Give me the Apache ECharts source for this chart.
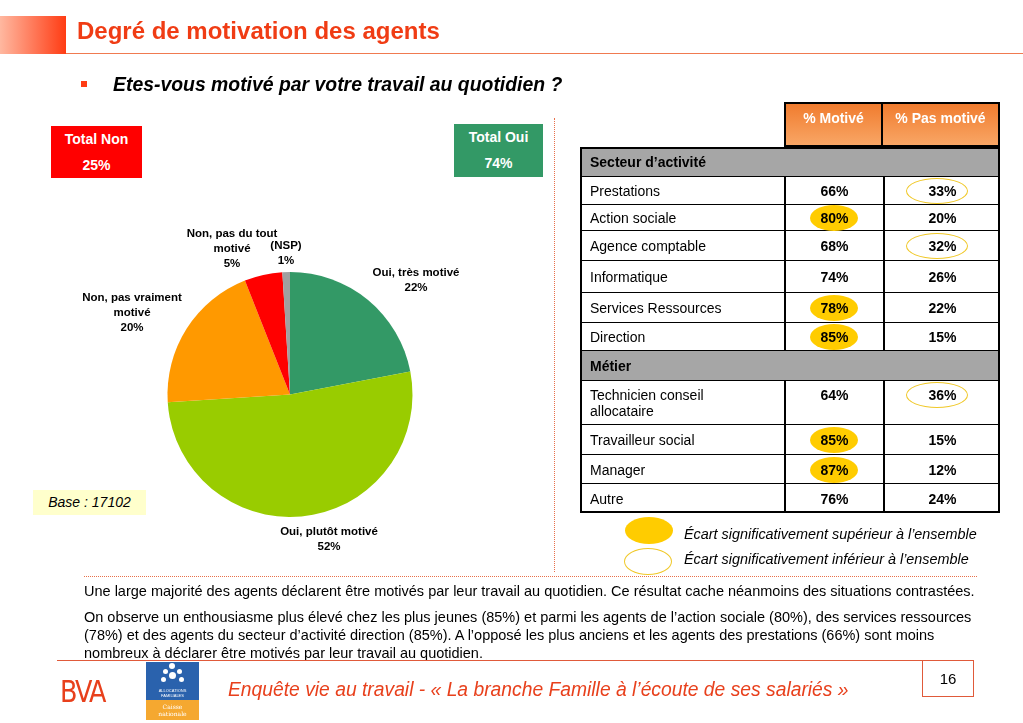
<!DOCTYPE html>
<html>
<head>
<meta charset="utf-8">
<script src="https://cdn.jsdelivr.net/npm/echarts/dist/echarts.min.js"></script>
<style>
  html, body { margin:0; padding:0; background:#fff; }
  body { width:1023px; height:723px; position:relative; overflow:hidden; font-family:"Liberation Sans", Arial, sans-serif; color:#000; }
  .abs { position:absolute; }
  #chart { position:absolute; left:0; top:0; width:1023px; height:723px; }
  .ell { position:absolute; border-radius:50%; box-sizing:border-box; }
  .vt { position:relative; z-index:2; }
</style>
</head>
<body>
<div id="chart"></div>
<div id="layer"></div>
<script>
// ---------- DATA ----------
const pieNames = ['Oui, très motivé', 'Oui, plutôt motivé', 'Non, pas vraiment\nmotivé', 'Non, pas du tout\nmotivé', '(NSP)'];
const pieValues = [22, 52, 20, 5, 1];
const pieColors = ['#339966', '#99cc00', '#ff9900', '#ff0000', '#a0a0a0'];

const totalLabels = ['Total Non', 'Total Oui'];
const totalValues = [25, 74];

const colHeaders = ['% Motivé', '% Pas motivé'];

const groupNames = ['Secteur d’activité', 'Métier'];
const secteurLabels = ['Prestations', 'Action sociale', 'Agence comptable', 'Informatique', 'Services Ressources', 'Direction'];
const secteurMotive = [66, 80, 68, 74, 78, 85];
const secteurPasMotive = [33, 20, 32, 26, 22, 15];
const secteurSig = ['low', 'high', 'low', '', 'high', 'high'];

const metierLabels = ['Technicien conseil\nallocataire', 'Travailleur social', 'Manager', 'Autre'];
const metierMotive = [64, 85, 87, 76];
const metierPasMotive = [36, 15, 12, 24];
const metierSig = ['low', 'high', 'high', ''];

const baseText = 'Base : 17102';
const legendTexts = ['Écart significativement supérieur à l’ensemble', 'Écart significativement inférieur à l’ensemble'];

// ---------- PIE ----------
const labelPos = [[416, 265], [329, 524], [132, 290], [232, 226], [286, 238]];
const chart = echarts.init(document.getElementById('chart'), null, { renderer: 'canvas' });
chart.setOption({
  animation: false,
  series: [{
    type: 'pie',
    center: [290, 394.5],
    radius: [0, 122.5],
    startAngle: 90,
    clockwise: true,
    data: pieNames.map((n, i) => ({ name: n, value: pieValues[i], itemStyle: { color: pieColors[i] } })),
    label: {
      show: true, position: 'outside', formatter: '{b}\n{c}%',
      color: '#000', fontWeight: 'bold', fontSize: 11.5, lineHeight: 15,
      fontFamily: 'Liberation Sans, Arial, sans-serif', align: 'center'
    },
    labelLine: { show: false },
    labelLayout: function (p) {
      const q = labelPos[p.dataIndex];
      return { x: q[0], y: q[1], align: 'center', verticalAlign: 'top' };
    },
    emphasis: { disabled: true }
  }]
});

// ---------- SLIDE LAYOUT ----------
const L = document.getElementById('layer');
function el(css, html) {
  const d = document.createElement('div');
  d.className = 'abs';
  d.style.cssText = css;
  if (html !== undefined) d.innerHTML = html;
  L.appendChild(d);
  return d;
}

// title block
el('left:0;top:16px;width:66px;height:38px;background:linear-gradient(to right,#ffb8a0,#ff3c14);');
el('left:66px;top:53px;width:957px;height:1px;background:#f07a50;');
el('left:77px;top:16px;font-size:24px;font-weight:bold;color:#f03c14;line-height:30px;white-space:nowrap;', 'Degré de motivation des agents');
// question
el('left:81px;top:81px;width:6px;height:6px;background:#ff3c14;');
el('left:113px;top:72px;font-size:19.4px;font-weight:bold;font-style:italic;line-height:24px;white-space:nowrap;', 'Etes-vous motivé par votre travail au quotidien ?');

// totals
const totalBoxes = [{ x: 51, y: 126, w: 91, h: 52, c: '#ff0000' }, { x: 454, y: 124, w: 89, h: 53, c: '#339966' }];
totalLabels.forEach((t, i) => {
  const b = totalBoxes[i];
  el(`left:${b.x}px;top:${b.y}px;width:${b.w}px;height:${b.h}px;background:${b.c};color:#fff;font-weight:bold;font-size:14px;text-align:center;line-height:26px;`,
    `${t}<br>${totalValues[i]}%`);
});

// vertical dotted separator
el('left:554px;top:118px;width:0;height:454px;border-left:1.5px dotted #e8704a;');

// base box
el('left:33px;top:490px;width:113px;height:25px;background:#ffffcc;font-size:14px;font-style:italic;line-height:25px;text-align:center;', baseText);

// ---------- TABLE ----------
const X0 = 580, X1 = 784, X2 = 883, X3 = 1000;
el(`left:${X1}px;top:102px;width:${X3 - X1}px;height:45px;background:linear-gradient(to bottom,#f07a2c,#f9a868);`);
colHeaders.forEach((h, i) => {
  const xa = i === 0 ? X1 : X2, xb = i === 0 ? X2 : X3;
  el(`left:${xa}px;top:102px;width:${xb - xa}px;height:45px;box-sizing:border-box;border:2px solid #000;${i ? 'border-left:none;' : ''}color:#fff;font-weight:bold;font-size:14px;text-align:center;padding-top:6px;line-height:16px;`, h);
});

const rowHeights = [30, 28, 26, 30, 32, 30, 28, 30, 44, 30, 29, 29];
const rows = [];
rows.push({ group: groupNames[0] });
secteurLabels.forEach((l, i) => rows.push({ label: l, a: secteurMotive[i], b: secteurPasMotive[i], s: secteurSig[i] }));
rows.push({ group: groupNames[1] });
metierLabels.forEach((l, i) => rows.push({ label: l, a: metierMotive[i], b: metierPasMotive[i], s: metierSig[i] }));

let y = 147;
rows.forEach((r, i) => {
  const h = rowHeights[i];
  if (r.group) {
    el(`left:${X0}px;top:${y}px;width:${X3 - X0}px;height:${h}px;background:#a6a6a6;box-sizing:border-box;border-bottom:1px solid #000;font-weight:bold;font-size:14px;line-height:${h}px;padding-left:10px;`, r.group);
  } else {
    const lines = r.label.split('\n').length;
    const padTop = Math.round((h - 16 * lines) / 2);
    el(`left:${X0}px;top:${y}px;width:${X1 - X0}px;height:${h}px;box-sizing:border-box;border-bottom:1px solid #000;font-size:14px;line-height:16px;padding:${padTop}px 0 0 10px;white-space:pre-line;`, r.label);
    const cA = el(`left:${X1}px;top:${y}px;width:${X2 - X1}px;height:${h}px;box-sizing:border-box;border-bottom:1px solid #000;border-left:2px solid #000;font-size:14px;font-weight:bold;text-align:center;padding-top:${padTop}px;line-height:16px;`);
    const cB = el(`left:${X2}px;top:${y}px;width:${X3 - X2}px;height:${h}px;box-sizing:border-box;border-bottom:1px solid #000;border-left:2px solid #000;font-size:14px;font-weight:bold;text-align:center;padding-top:${padTop}px;line-height:16px;`);
    const tA = document.createElement('span'); tA.className = 'vt'; tA.textContent = r.a + '%';
    const tB = document.createElement('span'); tB.className = 'vt'; tB.textContent = r.b + '%';
    cA.appendChild(tA); cB.appendChild(tB);
    if (r.s === 'high') {
      const e = document.createElement('div'); e.className = 'ell';
      e.style.cssText = `left:${(X2 - X1) / 2 - 2 - 24}px;top:${padTop + 8 - 13}px;width:48px;height:26px;background:#ffcc00;`;
      cA.appendChild(e);
    } else if (r.s === 'low') {
      const e = document.createElement('div'); e.className = 'ell';
      e.style.cssText = `left:${(X3 - X2) / 2 - 2 - 36}px;top:${padTop + 8 - 13}px;width:62px;height:26px;border:1px solid #f0c828;`;
      cB.appendChild(e);
    }
  }
  y += h;
});
el(`left:${X0}px;top:147px;width:${X3 - X0}px;height:${y - 147}px;box-sizing:border-box;border:2px solid #000;`);

// legend
el('left:625px;top:517px;width:48px;height:27px;border-radius:50%;background:#ffcc00;');
el('left:624px;top:548px;width:48px;height:27px;border-radius:50%;box-sizing:border-box;border:1px solid #f0c828;');
el('left:684px;top:525px;font-size:14.4px;font-style:italic;line-height:18px;white-space:nowrap;', legendTexts[0]);
el('left:684px;top:550px;font-size:14.4px;font-style:italic;line-height:18px;white-space:nowrap;', legendTexts[1]);

// horizontal dotted line
el('left:84px;top:576px;width:893px;height:0;border-top:1.5px dotted #e8704a;');

// comment text
el('left:84px;top:582px;font-size:14.5px;line-height:18px;white-space:nowrap;',
  'Une large majorité des agents déclarent être motivés par leur travail au quotidien. Ce résultat cache néanmoins des situations contrastées.');
el('left:84px;top:608px;font-size:14.5px;line-height:18px;white-space:nowrap;',
  'On observe un enthousiasme plus élevé chez les plus jeunes (85%) et parmi les agents de l’action sociale (80%), des services ressources<br>' +
  '(78%) et des agents du secteur d’activité direction (85%). A l’opposé les plus anciens et les agents des prestations (66%) sont moins<br>' +
  'nombreux à déclarer être motivés par leur travail au quotidien.');

// footer
el('left:57px;top:660px;width:866px;height:1px;background:#e05a3a;');
el('left:922px;top:660px;width:52px;height:37px;box-sizing:border-box;border:1px solid #e05a3a;font-size:15px;text-align:center;line-height:36px;', '16');
el('left:60px;top:674px;font-size:30px;color:#e8401c;line-height:36px;letter-spacing:-2px;font-family:\'DejaVu Sans\',sans-serif;transform:scaleX(0.85);transform-origin:left;', 'BVA');
el('left:146px;top:662px;width:53px;height:38px;background:#2a62ad;');
el('left:146px;top:700px;width:53px;height:20px;background:#f5a830;color:#fff;font-size:6px;line-height:7px;text-align:center;padding-top:3px;box-sizing:border-box;font-family:\'DejaVu Serif\',serif;', 'Caisse<br>nationale');
el('left:146px;top:688px;width:53px;color:#fff;font-size:4px;line-height:5px;text-align:center;', 'ALLOCATIONS<br>FAMILIALES');
[[172, 666, 6], [165, 671, 5], [179, 671, 5], [172, 675, 7], [163, 679, 5], [181, 679, 5]].forEach(c => {
  el(`left:${c[0] - c[2] / 2}px;top:${c[1] - c[2] / 2}px;width:${c[2]}px;height:${c[2]}px;border-radius:50%;background:#fff;`);
});
el('left:228px;top:677px;font-size:19.3px;font-style:italic;color:#e8401c;line-height:26px;white-space:nowrap;',
  'Enquête vie au travail - « La branche Famille à l’écoute de ses salariés »');
</script>
</body>
</html>
